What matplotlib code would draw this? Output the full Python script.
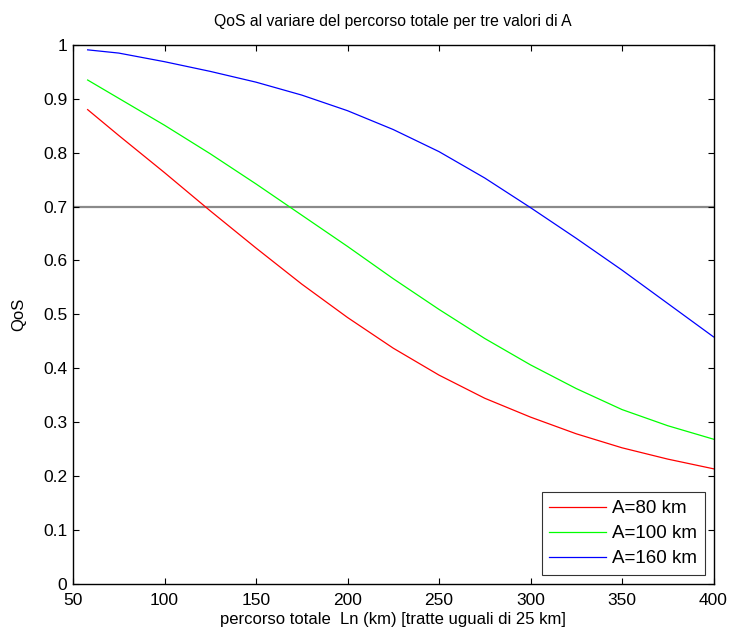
import numpy as np
import matplotlib
matplotlib.use("Agg")
import matplotlib.pyplot as plt
from matplotlib.ticker import FormatStrFormatter, MultipleLocator

# values
Ln = [58, 75, 100, 125, 150, 175, 200, 225, 250, 275, 300, 325, 350, 375, 400]
qos_80 = [0.880, 0.832, 0.763, 0.692, 0.623, 0.556, 0.494, 0.437, 0.387,
          0.344, 0.309, 0.278, 0.252, 0.231, 0.213]
qos_100 = [0.935, 0.901, 0.851, 0.798, 0.742, 0.684, 0.626, 0.566, 0.509,
           0.455, 0.406, 0.362, 0.323, 0.293, 0.268]
qos_160 = [0.991, 0.985, 0.969, 0.951, 0.931, 0.907, 0.878, 0.843, 0.802,
           0.753, 0.698, 0.641, 0.582, 0.520, 0.458]
labels = ['A=80 km', 'A=100 km', 'A=160 km']
soglia = 0.7

plt.rcParams['font.family'] = ['Liberation Sans', 'DejaVu Sans']
plt.rcParams['font.size'] = 12.5

fig = plt.figure(figsize=(7.35, 6.36), dpi=100)
ax = fig.add_axes([73 / 735, 1 - 583.5 / 636, 640.5 / 735, 538.5 / 636])

ax.axhline(soglia, color='#8a8a8a', linewidth=1.6, zorder=1)
ax.plot(Ln, qos_80, color='#ff0000', linewidth=0.9, label=labels[0])
ax.plot(Ln, qos_100, color='#00ff00', linewidth=0.9, label=labels[1])
ax.plot(Ln, qos_160, color='#0000ff', linewidth=0.9, label=labels[2])

ax.set_xlim(50, 400)
ax.set_ylim(0, 1)
ax.xaxis.set_major_locator(MultipleLocator(50))
ax.yaxis.set_major_locator(MultipleLocator(0.1))
ax.yaxis.set_major_formatter(FormatStrFormatter('%g'))
ax.tick_params(direction='in', top=True, right=True, length=4, width=0.8)
ax.tick_params(axis='x', pad=7)
ax.tick_params(axis='y', pad=4)
for s in ax.spines.values():
    s.set_linewidth(1.0)

ax.set_title('QoS al variare del percorso totale per tre valori di A',
             fontsize=11.3, pad=14)
ax.set_xlabel('percorso totale  Ln (km) [tratte uguali di 25 km]',
              fontsize=12, labelpad=3)
ax.set_ylabel('QoS', fontsize=12, labelpad=12)

leg = ax.legend(loc='lower right', frameon=True, fancybox=False, fontsize=13.5,
                edgecolor='black', handlelength=3.0, handletextpad=0.35,
                borderaxespad=0.45, labelspacing=0.42, borderpad=0.42)
leg.get_frame().set_linewidth(0.8)

fig.savefig('out.png', dpi=100)
